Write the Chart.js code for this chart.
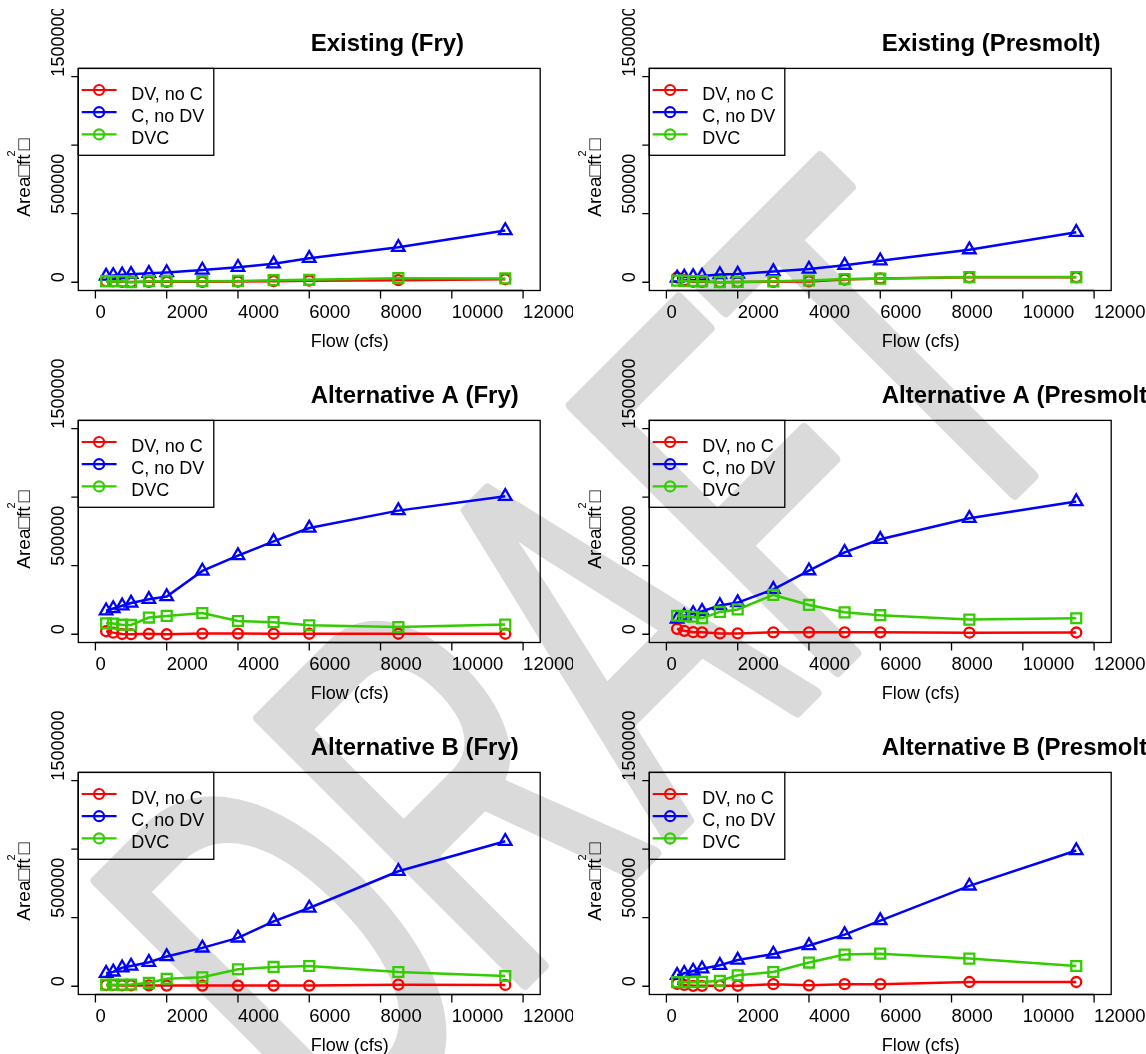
<!DOCTYPE html>
<html>
<head>
<meta charset="utf-8">
<title>Habitat area vs flow</title>
<script src="https://cdn.jsdelivr.net/npm/chart.js@4.4.1/dist/chart.umd.min.js"></script>
<style>
  html, body { margin: 0; padding: 0; background: #ffffff; width: 1146px; height: 1054px; overflow: hidden; }
  canvas { position: absolute; display: block; }
</style>
</head>
<body>
<canvas id="wm" width="1146" height="1054" style="left:0;top:0"></canvas>
<canvas id="p0" width="573" height="352" style="left:0px;top:0px"></canvas>
<canvas id="p1" width="575" height="352" style="left:571px;top:0px"></canvas>
<canvas id="p2" width="573" height="352" style="left:0px;top:352px"></canvas>
<canvas id="p3" width="575" height="352" style="left:571px;top:352px"></canvas>
<canvas id="p4" width="573" height="350" style="left:0px;top:704px"></canvas>
<canvas id="p5" width="575" height="350" style="left:571px;top:704px"></canvas>
<script>
// ---- data -------------------------------------------------------------
const FLOWS = [300, 500, 750, 1000, 1500, 2000, 3000, 4000, 5000, 6000, 8500, 11500];
const SERIES_LABELS = ['DV, no C', 'C, no DV', 'DVC'];
const X_TICKS = [0, 2000, 4000, 6000, 8000, 10000, 12000];
const X_TICK_LABELS = ['0', '2000', '4000', '6000', '8000', '10000', '12000'];
const Y_TICKS = [0, 500000, 1000000, 1500000];
const Y_TICK_LABELS = ['0', '500000', '', '1500000'];
const TITLES = ['Existing (Fry)', 'Existing (Presmolt)', 'Alternative A (Fry)',
                'Alternative A (Presmolt)', 'Alternative B (Fry)', 'Alternative B (Presmolt)'];

const existingFry_DVnoC = [8000, 6000, 3000, 2000, 3000, 3000, 3000, 5000, 8000, 12000, 15000, 22000];
const existingFry_CnoDV = [45000, 50000, 55000, 58000, 65000, 72000, 90000, 110000, 135000, 175000, 255000, 378000];
const existingFry_DVC   = [8000, 8000, 8000, 0, 8000, 8000, 8000, 10000, 15000, 18000, 30000, 28000];

const existingPre_DVnoC = [35000, 15000, 4000, 3000, 1000, 2000, 3000, 6000, 20000, 28000, 36000, 36000];
const existingPre_CnoDV = [32000, 38000, 42000, 46000, 57000, 60000, 78000, 97000, 125000, 157000, 238000, 365000];
const existingPre_DVC   = [12000, 10000, 8000, 7000, 1000, 2000, 7000, 13000, 24000, 26000, 38000, 38000];

const altAFry_DVnoC = [22000, 12000, 2000, 1000, 3000, 0, 5000, 5000, 4000, 4000, 4000, 4000];
const altAFry_CnoDV = [172000, 188000, 208000, 228000, 255000, 275000, 462000, 574000, 678000, 775000, 902000, 1006000];
const altAFry_DVC   = [80000, 78000, 70000, 68000, 122000, 134000, 155000, 97000, 88000, 66000, 53000, 71000];

const altAPre_DVnoC = [40000, 25000, 15000, 14000, 6000, 6000, 14000, 14000, 14000, 14000, 12000, 13000];
const altAPre_CnoDV = [112000, 135000, 152000, 168000, 210000, 231000, 328000, 464000, 598000, 693000, 846000, 968000];
const altAPre_DVC   = [135000, 133000, 128000, 118000, 163000, 181000, 287000, 214000, 160000, 139000, 107000, 117000];

const altBFry_DVnoC = [8000, 8000, 6000, 6000, 6000, 5000, 5000, 5000, 5000, 5000, 12000, 10000];
const altBFry_CnoDV = [95000, 105000, 135000, 148000, 175000, 217000, 280000, 353000, 474000, 571000, 839000, 1058000];
const altBFry_DVC   = [12000, 12000, 12000, 13000, 25000, 55000, 66000, 124000, 141000, 148000, 104000, 75000];

const altBPre_DVnoC = [18000, 10000, 3000, 3000, 4000, 4000, 15000, 7000, 15000, 15000, 31000, 31000];
const altBPre_CnoDV = [80000, 95000, 112000, 128000, 153000, 191000, 236000, 297000, 377000, 479000, 732000, 990000];
const altBPre_DVC   = [30000, 30000, 30000, 32000, 40000, 80000, 104000, 173000, 231000, 238000, 202000, 148000];

// ---- styling ----------------------------------------------------------
const FONT = '"Liberation Sans", Arial, Helvetica, sans-serif';
const COLORS = ['#FF0000', '#0000FF', '#33CC00'];
const MARKERS = [
  { style: 'circle',   radius: 5.0 },
  { style: 'triangle', radius: 7.2 },
  { style: 'rect',     radius: 7.0 }
];

// background "DRAFT" stamp: tall, condensed lettering on the diagonal
(function drawStamp() {
  const ctx = document.getElementById('wm').getContext('2d');
  ctx.save();
  ctx.translate(342, 1166);
  ctx.rotate(-45 * Math.PI / 180);
  ctx.scale(0.584, 1);
  ctx.font = '545px ' + FONT;
  ctx.fillStyle = '#DADADA';
  ctx.strokeStyle = '#DADADA';
  ctx.lineWidth = 12;
  ctx.lineJoin = 'round';
  ctx.fillText('DRAFT', 0, 0);
  ctx.strokeText('DRAFT', 0, 0);
  ctx.restore();
})();

// base-graphics style frame: box, axes, titles, legend
const rFrame = {
  id: 'rFrame',
  afterDatasetsDraw(chart, args, opts) {
    const ctx = chart.ctx;
    const a = chart.chartArea;
    const xs = chart.scales.x, ys = chart.scales.y;
    const cx = (a.left + a.right) / 2;
    const cy = (a.top + a.bottom) / 2;
    ctx.save();
    ctx.strokeStyle = '#000';
    ctx.fillStyle = '#000';
    ctx.lineWidth = 1.3;

    // plot box
    ctx.strokeRect(a.left, a.top, a.right - a.left, a.bottom - a.top);

    // axis lines + ticks
    ctx.beginPath();
    ctx.moveTo(xs.getPixelForValue(X_TICKS[0]), a.bottom);
    ctx.lineTo(xs.getPixelForValue(X_TICKS[X_TICKS.length - 1]), a.bottom);
    X_TICKS.forEach(v => {
      const px = xs.getPixelForValue(v);
      ctx.moveTo(px, a.bottom);
      ctx.lineTo(px, a.bottom + 8);
    });
    ctx.moveTo(a.left, ys.getPixelForValue(Y_TICKS[0]));
    ctx.lineTo(a.left, ys.getPixelForValue(Y_TICKS[Y_TICKS.length - 1]));
    Y_TICKS.forEach(v => {
      const py = ys.getPixelForValue(v);
      ctx.moveTo(a.left, py);
      ctx.lineTo(a.left - 7, py);
    });
    ctx.stroke();

    // x tick labels
    ctx.font = '18.5px ' + FONT;
    ctx.textAlign = 'left';
    ctx.textBaseline = 'alphabetic';
    X_TICKS.forEach((v, i) => {
      ctx.fillText(X_TICK_LABELS[i], xs.getPixelForValue(v), a.bottom + 27.8);
    });

    // y tick labels, rotated, reading upward from the tick
    ctx.font = '18px ' + FONT;
    ctx.save();
    if (opts.clipTop) {
      ctx.beginPath();
      ctx.rect(0, opts.clipTop, chart.width, chart.height);
      ctx.clip();
    }
    Y_TICKS.forEach((v, i) => {
      if (!Y_TICK_LABELS[i]) return;
      ctx.save();
      ctx.translate(a.left - 14.7, ys.getPixelForValue(v));
      ctx.rotate(-Math.PI / 2);
      ctx.fillText(Y_TICK_LABELS[i], 0, 0);
      ctx.restore();
    });
    ctx.restore();

    // x axis title
    ctx.font = '18px ' + FONT;
    ctx.fillText('Flow (cfs)', cx + 1.5, a.bottom + 56);

    // y axis title
    ctx.save();
    ctx.translate(a.left - 48.7, cy + 37.2);
    ctx.rotate(-Math.PI / 2);
    ctx.font = '19px ' + FONT;
    const main = 'Area\u25A1ft';
    ctx.fillText(main, 0, 0);
    let off = ctx.measureText(main).width;
    ctx.font = '11px ' + FONT;
    ctx.fillText('2', off - 2, -14.5);
    off += ctx.measureText('2').width - 2;
    ctx.font = '19px ' + FONT;
    ctx.fillText('\u25A1', off, 0);
    ctx.restore();

    // panel title
    ctx.font = 'bold 24px ' + FONT;
    ctx.fillText(opts.title, cx + 1.5, a.top - 17.5);

    // legend in the top-left corner of the plot region
    const lx = a.left, ly = a.top, lw = 135.5, lh = 86.9;
    ctx.lineWidth = 1.3;
    ctx.strokeStyle = '#000';
    ctx.strokeRect(lx, ly, lw, lh);
    ctx.font = '18px ' + FONT;
    chart.data.datasets.forEach((ds, i) => {
      const ry = ly + 21.6 + i * 22.2;
      ctx.strokeStyle = ds.borderColor;
      ctx.lineWidth = 2.2;
      ctx.beginPath();
      ctx.moveTo(lx + 3.4, ry);
      ctx.lineTo(lx + 38.3, ry);
      ctx.stroke();
      ctx.beginPath();
      ctx.arc(lx + 20.8, ry, 5, 0, Math.PI * 2);
      ctx.stroke();
      ctx.fillStyle = '#000';
      ctx.fillText(ds.label, lx + 53, ry + 10);
    });
    ctx.restore();
  }
};

function makeSeries(values, idx) {
  return {
    label: SERIES_LABELS[idx],
    data: FLOWS.map((f, i) => ({ x: f, y: values[i] })),
    borderColor: COLORS[idx],
    borderWidth: 2.5,
    pointStyle: MARKERS[idx].style,
    pointRadius: MARKERS[idx].radius,
    pointBorderWidth: 2.3,
    pointBorderColor: COLORS[idx],
    pointBackgroundColor: 'rgba(0,0,0,0)',
    pointHoverRadius: MARKERS[idx].radius,
    tension: 0,
    fill: false,
    order: 2 - idx
  };
}

const PANELS = [
  { id: 'p0', title: TITLES[0], series: [existingFry_DVnoC, existingFry_CnoDV, existingFry_DVC], clipTop: 9 },
  { id: 'p1', title: TITLES[1], series: [existingPre_DVnoC, existingPre_CnoDV, existingPre_DVC], clipTop: 9 },
  { id: 'p2', title: TITLES[2], series: [altAFry_DVnoC, altAFry_CnoDV, altAFry_DVC] },
  { id: 'p3', title: TITLES[3], series: [altAPre_DVnoC, altAPre_CnoDV, altAPre_DVC] },
  { id: 'p4', title: TITLES[4], series: [altBFry_DVnoC, altBFry_CnoDV, altBFry_DVC] },
  { id: 'p5', title: TITLES[5], series: [altBPre_DVnoC, altBPre_CnoDV, altBPre_DVC] }
];

PANELS.forEach(p => {
  const canvas = document.getElementById(p.id);
  const w = canvas.width, h = canvas.height;
  new Chart(canvas, {
    type: 'line',
    data: { datasets: p.series.map((vals, i) => makeSeries(vals, i)) },
    options: {
      responsive: false,
      animation: false,
      events: [],
      layout: { padding: { left: 78.3, right: w - 540.2, top: 68.4, bottom: h - 290.5 } },
      scales: {
        x: { type: 'linear', min: -480, max: 12480, display: false },
        y: { type: 'linear', min: -60000, max: 1560000, display: false }
      },
      plugins: {
        legend: { display: false },
        tooltip: { enabled: false },
        rFrame: { title: p.title, clipTop: p.clipTop || 0 }
      }
    },
    plugins: [rFrame]
  });
});
</script>
</body>
</html>
